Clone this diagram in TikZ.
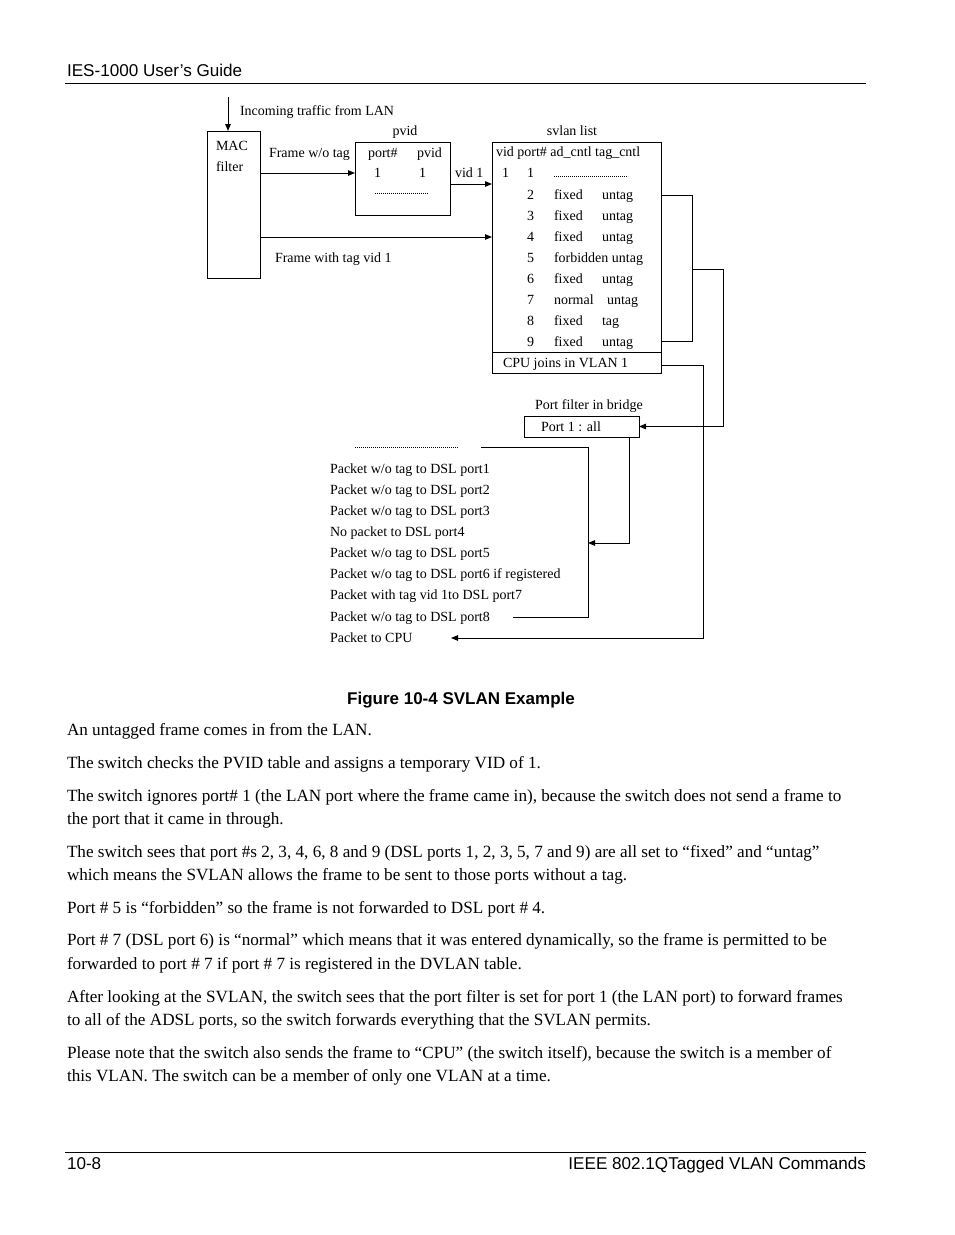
\documentclass[tikz,border=0pt]{standalone}
\usepackage{fontspec}
\setmainfont{Liberation Serif}
\newfontfamily\arial{Liberation Sans}
\usetikzlibrary{arrows.meta}
\begin{document}
\begin{tikzpicture}[x=1pt,y=-1pt,
  every node/.style={inner sep=0pt,outer sep=0pt},
  dia/.style={anchor=base west,font=\fontsize{14}{16}\selectfont},
  diac/.style={anchor=base,font=\fontsize{14}{16}\selectfont},
  body/.style={anchor=base west,font=\fontsize{17.15}{20}\selectfont},
  hdr/.style={font=\arial\fontsize{17.1}{20}\selectfont},
  boxs/.style={draw,line width=1pt,anchor=north west},
  ln/.style={line width=1pt},
  arr/.style={line width=1pt,-{Triangle[length=7pt,width=5.5pt]}},
  dots/.style={line width=0.6pt,dash pattern=on 0.7pt off 1.3pt}]
\useasboundingbox (0,0) rectangle (954,1235);
\fill[white] (0,0) rectangle (954,1235);
% header / footer
\node[hdr,anchor=base west] (title) at (67,76) {IES-1000 User’s Guide};
\draw[line width=1pt] (65,83) -- (866,83);
\draw[line width=1pt] (65,1152) -- (866,1152);
\node[hdr,anchor=base west] (pg) at (67,1169) {10-8};
\node[hdr,anchor=base east] (chap) at (866,1169) {IEEE 802.1QTagged VLAN Commands};
% boxes
\node[boxs,minimum width=53pt,minimum height=147pt] (mac) at (207,131) {};
\node[boxs,minimum width=95pt,minimum height=73pt] (pvid) at (355,142) {};
\node[boxs,minimum width=169pt,minimum height=210pt] (svlan) at (492,142) {};
\node[boxs,minimum width=169pt,minimum height=21pt] (cpu) at (492,352) {};
\node[boxs,minimum width=115pt,minimum height=21pt] (pf) at (524,416) {};
% diagram text
\node[dia] (inc) at (240,115.5) {Incoming traffic from LAN};
\node[diac] (pvidl) at (405,135.5) {pvid};
\node[diac] (svl) at (572,135.5) {svlan list};
\node[dia] (mac1) at (216,150.5) {MAC};
\node[dia] (mac2) at (216,171.5) {filter};
\node[dia] (fwo) at (269,157.5) {Frame w/o tag};
\node[dia] (pvh1) at (368,157.5) {port\#};
\node[dia] (pvh2) at (417,157.5) {pvid};
\node[dia] (pv1) at (374,177.5) {1};
\node[dia] (pv2) at (419,177.5) {1};
\draw[dots] (375,193) -- (428,193);
\node[dia] (vid1) at (455,177.5) {vid 1};
\node[dia] (fwt) at (275,262.5) {Frame with tag vid 1};
\node[dia] (svh) at (496,156.5) {vid port\# ad\_cntl tag\_cntl};
\node[dia] (r1a) at (502,177.5) {1};
\node[dia] (r1b) at (527,177.5) {1};
\draw[dots] (554,176) -- (628,176);
\foreach \n/\yy/\ad/\tg/\tx in {2/199.5/fixed/untag/602,3/220.5/fixed/untag/602,4/241.5/fixed/untag/602,6/283.5/fixed/untag/602,7/304.5/normal/untag/607,8/325.5/fixed/tag/602,9/346.5/fixed/untag/602}{
  \node[dia] (rp\n) at (527,\yy) {\n};
  \node[dia] (ra\n) at (554,\yy) {\ad};
  \node[dia] (rt\n) at (\tx,\yy) {\tg};
}
\node[dia] (rp5) at (527,262.5) {5};
\node[dia] (ra5) at (554,262.5) {forbidden untag};
\node[dia] (cpul) at (503,367.5) {CPU joins in VLAN 1};
\node[dia] (pfl) at (535,409.5) {Port filter in bridge};
\node[dia] (pft) at (541,431.5) {Port 1 : all};
\draw[dots] (355,447) -- (458,447);
\foreach \i/\yy/\t in {1/473.5/{Packet w/o tag to DSL port1},2/494.5/{Packet w/o tag to DSL port2},3/515.5/{Packet w/o tag to DSL port3},4/536.5/{No packet to DSL port4},5/557.5/{Packet w/o tag to DSL port5},6/578.5/{Packet w/o tag to DSL port6 if registered},7/599.5/{Packet with tag vid 1to DSL port7},8/621.5/{Packet w/o tag to DSL port8}}{
  \node[dia] (pk\i) at (330,\yy) {\t};
}
\node[dia] (pkcpu) at (330,642.5) {Packet to CPU};
% connectors
\coordinate (incs) at (228,97);
\draw[arr] (incs) -- (incs |- mac.north);
\draw[arr] (mac.east |- 0,173) -- (pvid.west |- 0,173);
\draw[arr] (pvid.east |- 0,184) -- (svlan.west |- 0,184);
\draw[arr] (mac.east |- 0,237) -- (svlan.west |- 0,237);
\draw[ln] (svlan.east |- 0,195) -| (692,341) -- (svlan.east |- 0,341);
\coordinate (brk) at (692,269);
\draw[arr] (brk) -| (723,426.5) -- (pf.east);
\coordinate (cpuend) at (451,638);
\draw[arr] (cpu.east |- 0,365) -| (703,638) -- (cpuend);
\coordinate (pfin) at (588,543);
\draw[arr] (pf.south -| 629,0) |- (pfin);
\coordinate (lsA) at (481,447);
\coordinate (lsB) at (513,617);
\draw[ln] (lsA) -| (588,617) -- (lsB);
% caption
\node[font=\arial\bfseries\fontsize{17}{20}\selectfont,anchor=base] (cap) at (461,704) {Figure 10-4 SVLAN Example};
% body
\node[body] (b1) at (67,735) {An untagged frame comes in from the LAN.};
\node[body] (b2) at (67,768) {The switch checks the PVID table and assigns a temporary VID of 1.};
\node[body] (b3) at (67,801) {The switch ignores port\# 1 (the LAN port where the frame came in), because the switch does not send a frame to};
\node[body] (b4) at (67,824) {the port that it came in through.};
\node[body] (b5) at (67,857) {The switch sees that port \#s 2, 3, 4, 6, 8 and 9 (DSL ports 1, 2, 3, 5, 7 and 9) are all set to “fixed” and “untag”};
\node[body] (b6) at (67,880) {which means the SVLAN allows the frame to be sent to those ports without a tag.};
\node[body] (b7) at (67,913) {Port \# 5 is “forbidden” so the frame is not forwarded to DSL port \# 4.};
\node[body] (b8) at (67,945) {Port \# 7 (DSL port 6) is “normal” which means that it was entered dynamically, so the frame is permitted to be};
\node[body] (b9) at (67,969) {forwarded to port \# 7 if port \# 7 is registered in the DVLAN table.};
\node[body] (b10) at (67,1002) {After looking at the SVLAN, the switch sees that the port filter is set for port 1 (the LAN port) to forward frames};
\node[body] (b11) at (67,1025) {to all of the ADSL ports, so the switch forwards everything that the SVLAN permits.};
\node[body] (b12) at (67,1058) {Please note that the switch also sends the frame to “CPU” (the switch itself), because the switch is a member of};
\node[body] (b13) at (67,1081) {this VLAN. The switch can be a member of only one VLAN at a time.};
\end{tikzpicture}
\end{document}
